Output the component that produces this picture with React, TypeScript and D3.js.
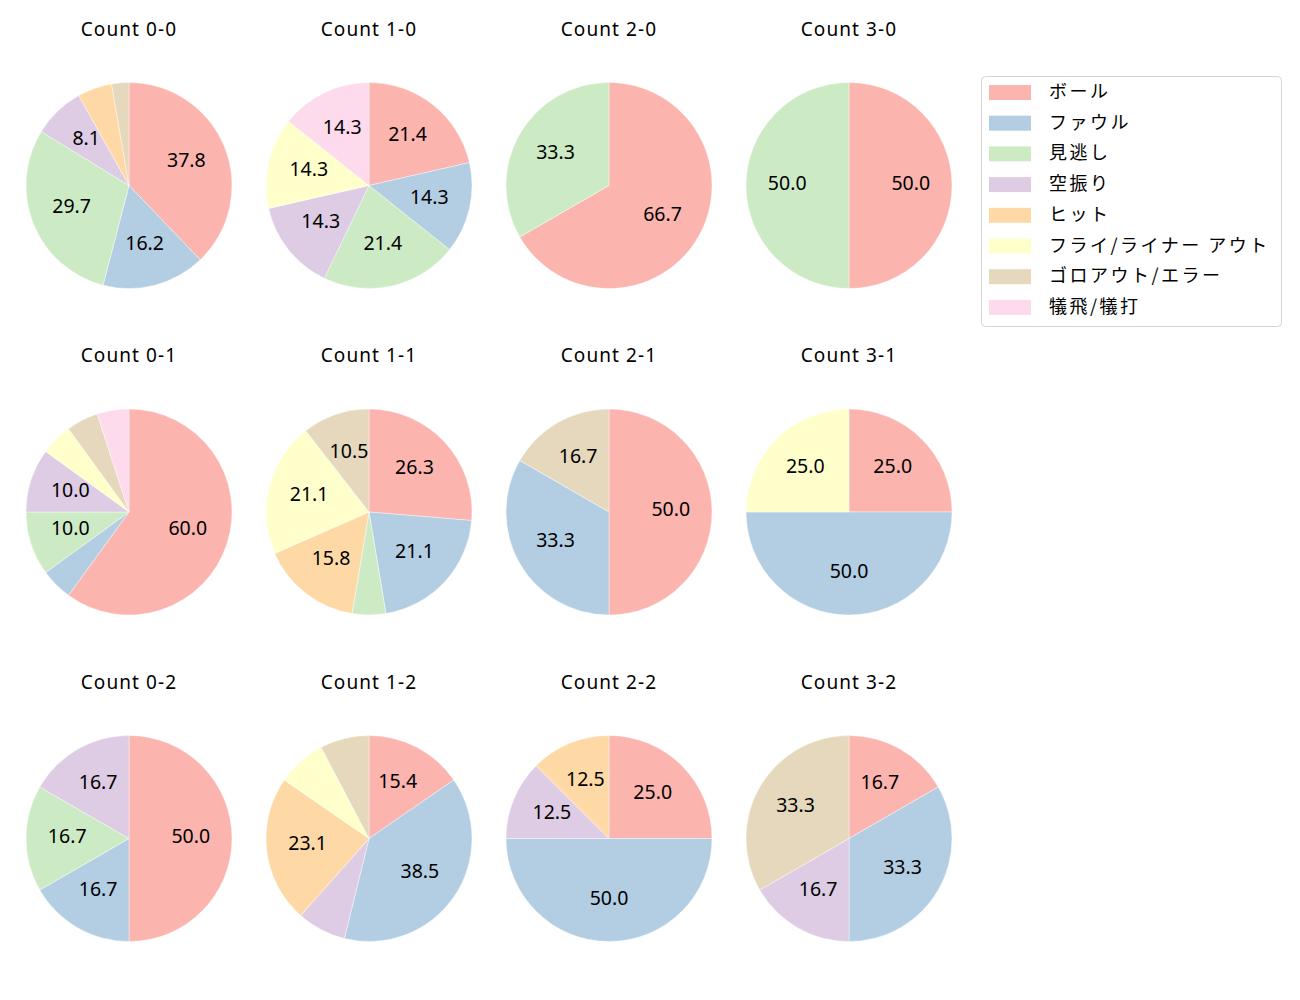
import React from "react";
import * as d3 from "d3";

const categories = ["ボール", "ファウル", "見逃し", "空振り", "ヒット", "フライ/ライナー アウト", "ゴロアウト/エラー", "犠飛/犠打"];
const colors = ["#fbb4ae", "#b3cde3", "#ccebc5", "#decbe4", "#fed9a6", "#ffffcc", "#e5d8bd", "#fddaec"];

const countTitles = [
  ["Count 0-0", "Count 1-0", "Count 2-0", "Count 3-0"],
  ["Count 0-1", "Count 1-1", "Count 2-1", "Count 3-1"],
  ["Count 0-2", "Count 1-2", "Count 2-2", "Count 3-2"],
];

// pitch counts per category (order as categories)
const count00 = [14, 6, 11, 3, 2, 0, 1, 0];
const count10 = [3, 2, 3, 2, 0, 2, 0, 2];
const count20 = [2, 0, 1, 0, 0, 0, 0, 0];
const count30 = [1, 0, 1, 0, 0, 0, 0, 0];
const count01 = [12, 1, 2, 2, 0, 1, 1, 1];
const count11 = [5, 4, 1, 0, 3, 4, 2, 0];
const count21 = [3, 2, 0, 0, 0, 0, 1, 0];
const count31 = [1, 2, 0, 0, 0, 1, 0, 0];
const count02 = [3, 1, 1, 1, 0, 0, 0, 0];
const count12 = [2, 5, 0, 1, 3, 1, 1, 0];
const count22 = [2, 4, 0, 1, 1, 0, 0, 0];
const count32 = [1, 2, 0, 1, 0, 0, 2, 0];

const grid = [
  [count00, count10, count20, count30],
  [count01, count11, count21, count31],
  [count02, count12, count22, count32],
];

const LATIN = "'Noto Sans', 'Noto Sans CJK JP', sans-serif";
const CJK = "'Noto Sans CJK JP', 'Noto Sans', sans-serif";

export default function App() {
  const W = 1300, H = 1000;
  const colX = d3.scaleLinear().domain([0, 3]).range([129, 849]);
  const rowY = d3.scaleLinear().domain([0, 2]).range([185.5, 838.5]);
  const R = 103;
  const arc = d3.arc<d3.PieArcDatum<number>>().innerRadius(0).outerRadius(R);
  const pie = d3.pie<number>().sort(null).value((d) => d);

  return (
    <svg width={W} height={H} style={{ position: "absolute", left: 0, top: 0, background: "#fff" }}>
      <rect width={W} height={H} fill="#fff" />
      {grid.map((row, ri) =>
        row.map((vals, ci) => {
          const cx = colX(ci), cy = rowY(ri);
          const total = d3.sum(vals);
          const arcs = pie(vals);
          return (
            <g key={`${ri}-${ci}`}>
              <text x={cx} y={cy - 150} textAnchor="middle" fontSize={19} letterSpacing={1.1} fontFamily={LATIN} fill="#000">
                {countTitles[ri][ci]}
              </text>
              <g transform={`translate(${cx},${cy})`}>
                {arcs.map((a, i) =>
                  a.value > 0 ? (
                    <path key={i} d={arc(a) || ""} fill={colors[i]} stroke="#fff" strokeWidth={0.4} />
                  ) : null
                )}
                {arcs.map((a, i) => {
                  const pct = (a.value / total) * 100;
                  if (pct < 8) return null;
                  const mid = (a.startAngle + a.endAngle) / 2;
                  const x = 0.6 * R * Math.sin(mid);
                  const y = -0.6 * R * Math.cos(mid);
                  return (
                    <text key={"t" + i} x={x} y={y + 4.3} textAnchor="middle" fontSize={19.5} fontFamily={LATIN} fill="#000">
                      {pct.toFixed(1)}
                    </text>
                  );
                })}
              </g>
            </g>
          );
        })
      )}
      <g>
        <rect x={981.5} y={76.5} width={300} height={250} rx={4} fill="#fff" stroke="#d5d5d5" strokeWidth={1} />
        {categories.map((c, i) => {
          const y = 92.5 + i * 30.7;
          return (
            <g key={c}>
              <rect x={989} y={y - 7.5} width={42} height={15} fill={colors[i]} />
              <text x={1049} y={y + 5.5} fontSize={18} letterSpacing={2.5} fontFamily={CJK} fill="#000">
                {c}
              </text>
            </g>
          );
        })}
      </g>
    </svg>
  );
}
